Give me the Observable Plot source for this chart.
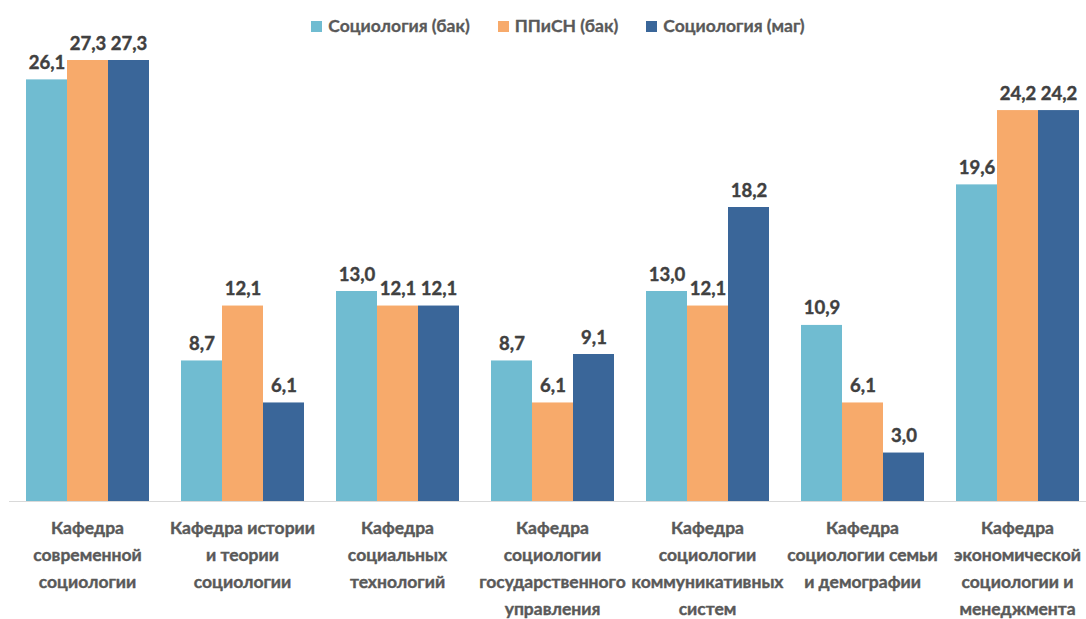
<!DOCTYPE html>
<html>
<head>
<meta charset="utf-8">
<script src="https://cdn.jsdelivr.net/npm/d3@7"></script>
<script src="https://cdn.jsdelivr.net/npm/@observablehq/plot@0.6"></script>
<style>
  html, body { margin: 0; padding: 0; background: #fff; }
  #wrap { position: relative; width: 1086px; height: 619px; font-family: Lato, "Open Sans", sans-serif; }
  #legend { position: absolute; top: 15px; left: 15px; width: 1086px; display: flex; justify-content: center; gap: 28px; font-weight: bold; font-size: 17.5px; line-height: 22px; color: #595959; -webkit-text-stroke: 0.3px #595959; }
  #legend span.item { display: flex; align-items: center; gap: 6px; }
  #legend span.sw { width: 11px; height: 11px; display: inline-block; }
</style>
</head>
<body>
<div id="wrap"><div id="legend"></div><div id="chart"></div></div>
<script>
const categories = [
  "Кафедра\nсовременной\nсоциологии",
  "Кафедра истории\nи теории\nсоциологии",
  "Кафедра\nсоциальных\nтехнологий",
  "Кафедра\nсоциологии\nгосударственного\nуправления",
  "Кафедра\nсоциологии\nкоммуникативных\nсистем",
  "Кафедра\nсоциологии семьи\nи демографии",
  "Кафедра\nэкономической\nсоциологии и\nменеджмента"
];
const series = ["Социология (бак)", "ППиСН (бак)", "Социология (маг)"];
const sociologyBak = [26.1, 8.7, 13.0, 8.7, 13.0, 10.9, 19.6];
const ppisnBak = [27.3, 12.1, 12.1, 6.1, 12.1, 6.1, 24.2];
const sociologyMag = [27.3, 6.1, 12.1, 9.1, 18.2, 3.0, 24.2];
const colors = ["#70BCD1", "#F7AA6B", "#3A6699"];

const values = [sociologyBak, ppisnBak, sociologyMag];
const data = categories.flatMap((c, i) => series.map((s, j) => ({category: c, series: s, value: values[j][i]})));
const fmt = v => d3.format(".1f")(v).replace(".", ",");

const legend = document.getElementById("legend");
series.forEach((s, j) => {
  const it = document.createElement("span");
  it.className = "item";
  const sw = document.createElement("span");
  sw.className = "sw";
  sw.style.background = colors[j];
  it.appendChild(sw);
  it.appendChild(document.createTextNode(s));
  legend.appendChild(it);
});

const chart = Plot.plot({
  width: 1086,
  height: 619,
  marginTop: 60,
  marginBottom: 118,
  marginLeft: 24,
  marginRight: 6,
  style: {fontFamily: "Lato, 'Open Sans', sans-serif", background: "transparent"},
  fx: {domain: categories, paddingInner: 0.2, paddingOuter: 0, axis: null, label: null},
  x: {domain: series, padding: 0, axis: null},
  y: {domain: [0, 27.3], axis: null},
  color: {domain: series, range: colors},
  marks: [
    Plot.barY(data, {fx: "category", x: "series", y: "value", fill: "series"}),
    Plot.ruleY([0], {stroke: "#d9d9d9", strokeWidth: 1.2, insetLeft: -16, insetRight: -16}),
    Plot.text(data, {fx: "category", x: "series", y: "value", text: d => fmt(d.value),
      lineAnchor: "bottom", dy: -11, fontSize: 18.5, fontWeight: "bold", fill: "#404040",
      stroke: "#404040", strokeWidth: 0.4}),
    Plot.text(categories, {fx: d => d, text: d => d, frameAnchor: "bottom", lineAnchor: "top",
      dy: 13, fontSize: 17.5, fontWeight: "bold", fill: "#595959", stroke: "#595959", strokeWidth: 0.4,
      lineHeight: 1.55})
  ]
});
document.getElementById("chart").appendChild(chart);
</script>
</body>
</html>
